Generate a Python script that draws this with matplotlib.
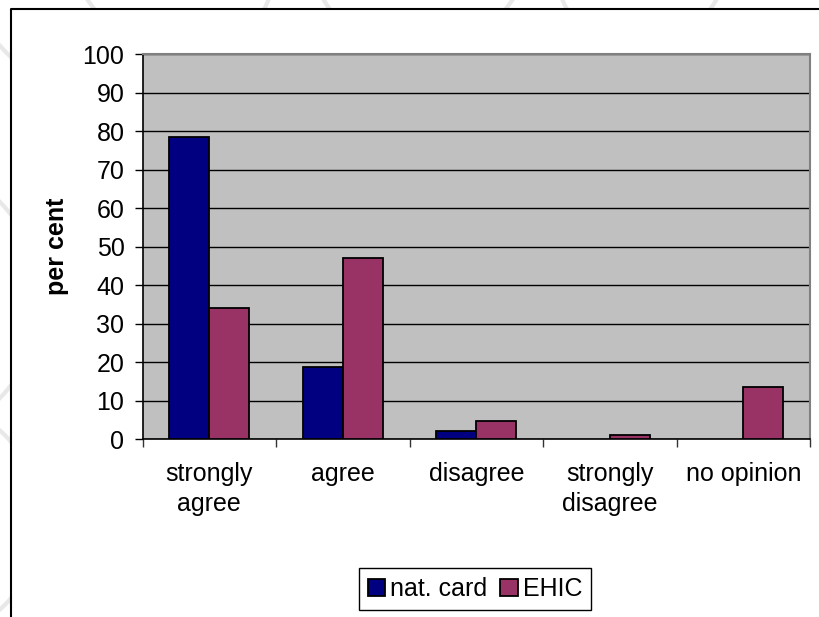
import matplotlib
matplotlib.use("Agg")
import matplotlib.pyplot as plt
import numpy as np
from matplotlib.patches import Rectangle, Arc

categories = ["strongly\nagree", "agree", "disagree", "strongly\ndisagree", "no opinion"]
nat_card = [78.5, 18.7, 2.1, 0.0, 0.0]
ehic = [34.2, 47.0, 4.7, 1.0, 13.5]
series_names = ["nat. card", "EHIC"]
yticks = list(range(0, 101, 10))

plt.rcParams['font.family'] = ['Liberation Sans', 'DejaVu Sans']
FS = 18

W, H = 819, 617
fig = plt.figure(figsize=(W / 100, H / 100), dpi=100)
fig.patch.set_facecolor('white')

# background layer (faint watermark arcs + white chart frame)
bg = fig.add_axes([0, 0, 1, 1], zorder=-10)
bg.set_xlim(0, W)
bg.set_ylim(H, 0)
bg.axis('off')
for (cx, cy, r) in [(300, -150, 260), (520, -120, 230), (700, -60, 150),
                    (-100, 300, 140), (-80, 520, 120), (120, -60, 160)]:
    bg.add_patch(Arc((cx, cy), 2 * r, 2 * r, color='#e8e8e8', lw=3))
bg.add_patch(Rectangle((11, 9), W, H, facecolor='white', edgecolor='none', zorder=2))
bg.plot([11, 11, W], [H, 9, 9], color='black', lw=1.5, zorder=3, solid_capstyle='butt')

# chart axes
L, R, T, B = 142.5, 810, 54.3, 439.3
ax = fig.add_axes([L / W, 1 - B / H, (R - L) / W, (B - T) / H])
ax.set_facecolor('#C0C0C0')

x = np.arange(len(categories))
bw = 0.3
ax.bar(x - bw / 2, nat_card, bw, color='#000080', edgecolor='black',
       linewidth=[1.3 if v > 0 else 0 for v in nat_card],
       label=series_names[0], zorder=3)
ax.bar(x + bw / 2, ehic, bw, color='#993366', edgecolor='black',
       linewidth=[1.3 if v > 0 else 0 for v in ehic],
       label=series_names[1], zorder=3)

ax.set_xlim(-0.5, len(categories) - 0.5)
ax.set_ylim(0, 100)
ax.set_yticks(yticks)
ax.set_yticklabels([str(v) for v in yticks], fontsize=FS)
ax.yaxis.grid(True, color='black', linewidth=1.0, zorder=1)
ax.set_axisbelow(True)
ax.tick_params(axis='y', direction='out', length=6, width=1.0, pad=7, colors='black')

ax.set_xticks(np.arange(-0.5, len(categories), 1.0))
ax.set_xticklabels([])
ax.set_xticks(x, minor=True)
ax.set_xticklabels(categories, minor=True, fontsize=FS, linespacing=1.35)
ax.tick_params(axis='x', which='major', direction='out', length=6, width=1.0, colors='#333333')
ax.tick_params(axis='x', which='minor', length=0, pad=16)

for s in ['left', 'bottom']:
    ax.spines[s].set_color('black')
    ax.spines[s].set_linewidth(1.2)
for s in ['top', 'right']:
    ax.spines[s].set_color('#808080')
    ax.spines[s].set_linewidth(1.5)

ax.set_ylabel('per cent', fontsize=FS, fontweight='bold', labelpad=10)

leg = ax.legend(loc='center', bbox_to_anchor=(475 / W, 1 - 589 / H),
                bbox_transform=fig.transFigure, ncol=2, fontsize=FS, frameon=True,
                fancybox=False, edgecolor='black', framealpha=1, handlelength=0.7,
                handleheight=0.7, handletextpad=0.2, columnspacing=0.5,
                borderpad=0.35, borderaxespad=0)
leg.get_frame().set_linewidth(1.0)
for h in leg.legend_handles:
    h.set_linewidth(1.3)

fig.savefig('out.png', dpi=100, facecolor=fig.get_facecolor())
